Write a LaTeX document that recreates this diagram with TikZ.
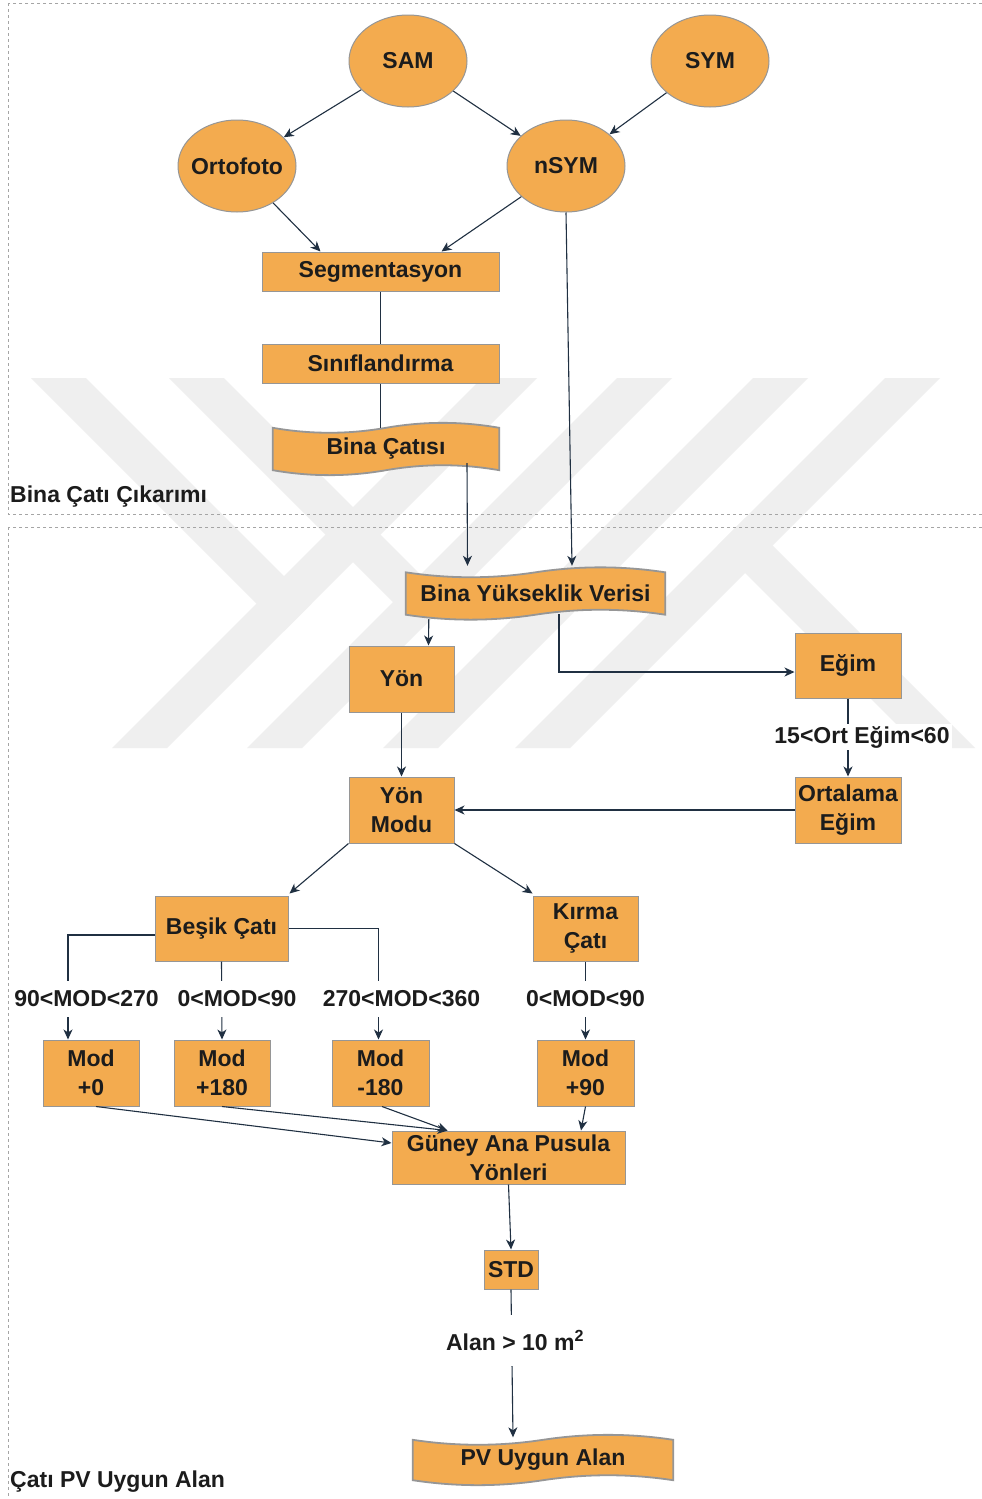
\documentclass[tikz,border=0pt]{standalone}
\usepackage{fontspec}
\setmainfont{Liberation Sans}
\usetikzlibrary{shapes.geometric,arrows.meta,calc}
\definecolor{orng}{RGB}{243,171,79}
\definecolor{bordr}{RGB}{150,150,150}
\definecolor{arr}{RGB}{32,48,66}
\definecolor{wmk}{RGB}{239,239,239}
\definecolor{lane}{RGB}{165,165,165}
\definecolor{txt}{RGB}{28,28,28}
\pgfdeclarelayer{wmark}
\pgfdeclarelayer{shapes}
\pgfsetlayers{wmark,shapes,main}
\tikzset{
  base/.style={font=\fontsize{23}{29}\selectfont\bfseries, text=txt, align=center, inner sep=0pt},
  ellbox/.style={base, ellipse, draw=bordr, fill=orng, line width=1pt, minimum width=118pt, minimum height=92pt},
  rbox/.style={base, draw=bordr, fill=orng, line width=1pt},
  tapebox/.style={base},
  conn/.style={draw=arr, line width=1.1pt, -{Stealth[length=10pt,width=9pt,inset=3pt]}},
  plainline/.style={draw=arr, line width=1.1pt},
  lbl/.style={base, fill=white, inner xsep=2pt},
  lanebox/.style={draw=lane, dash pattern=on 3pt off 3pt, line width=0.9pt},
  lanelbl/.style={base, anchor=west},
  wmband/.style={fill=wmk, draw=none},
}
\newcommand\tapeshape[2]{%
  \begin{pgfonlayer}{shapes}
  \path[draw=bordr, fill=orng, line width=1.8pt] let \p1=(#1.north west), \p2=(#1.south east), \n1={\x2-\x1} in
   (\x1,{\y1-#2/2}) .. controls ({\x1+\n1/6},{\y1-1.1*#2}) and ({\x1+\n1/3},{\y1-1.1*#2}) .. ({\x1+\n1/2},{\y1-#2/2})
   .. controls ({\x1+2*\n1/3},{\y1+0.1*#2}) and ({\x1+5*\n1/6},{\y1+0.1*#2}) .. (\x2,{\y1-#2/2})
   -- (\x2,{\y2+#2/2})
   .. controls ({\x2-\n1/6},{\y2+1.1*#2}) and ({\x1+2*\n1/3},{\y2+1.1*#2}) .. ({\x1+\n1/2},{\y2+#2/2})
   .. controls ({\x1+\n1/3},{\y2-0.1*#2}) and ({\x1+\n1/6},{\y2-0.1*#2}) .. (\x1,{\y2+#2/2}) -- cycle;
  \end{pgfonlayer}}
\newcommand\ctext[1]{\makebox[0pt][c]{#1}}
\begin{document}
\begin{tikzpicture}[x=1pt,y=-1pt]
\useasboundingbox (0,0) rectangle (982,1499);

% background and watermark
\begin{pgfonlayer}{wmark}
\fill[white] (0,0) rectangle (982,1499);
\fill[wmband] (112,748) -- (167,748) -- (537,378) -- (482,378) -- cycle;
\fill[wmband] (247,748) -- (302,748) -- (672,378) -- (617,378) -- cycle;
\fill[wmband] (383,748) -- (438,748) -- (808,378) -- (753,378) -- cycle;
\fill[wmband] (515,748) -- (570,748) -- (940,378) -- (885,378) -- cycle;
\fill[wmband] (31,378) -- (86,378) -- (311.5,603.5) -- (284,631) -- cycle;
\fill[wmband] (169,378) -- (224,378) -- (448,602) -- (420.5,629.5) -- cycle;
\fill[wmband] (717.5,545.5) -- (745,518) -- (975,748) -- (920,748) -- cycle;
\end{pgfonlayer}

% lanes
\draw[lanebox] (8,3) rectangle (995,514);
\draw[lanebox] (8,527) rectangle (995,1515);
\node[lanelbl] (lane1) at (10,497) {Bina Çatı Çıkarımı};
\node[lanelbl] (lane2) at (10,1482) {Çatı PV Uygun Alan};

% nodes
\node[ellbox] (sam) at (408,61) {\ctext{SAM}};
\node[ellbox] (sym) at (710,61) {\ctext{SYM}};
\node[ellbox] (orto) at (237,166) {\ctext{Ortofoto}};
\node[ellbox] (nsym) at (566,166) {\ctext{nSYM}};
\node[rbox, minimum width=237pt, minimum height=39pt] (seg) at (380.5,271.5) {Segmentasyon};
\node[rbox, minimum width=237pt, minimum height=39pt] (sin) at (380.5,363.5) {Sınıflandırma};
\node[tapebox, minimum width=226pt, minimum height=53pt] (bc) at (386,449) {Bina Çatısı};
\tapeshape{bc}{11pt}
\node[tapebox, minimum width=259pt, minimum height=53pt] (byv) at (535.5,593.5) {Bina Yükseklik Verisi};
\tapeshape{byv}{11pt}
\node[rbox, minimum width=105pt, minimum height=66pt] (yon) at (401.5,679) {Yön};
\node[rbox, minimum width=106pt, minimum height=65pt] (egim) at (848,665.5) {Eğim};
\node[rbox, minimum width=106pt, minimum height=66pt] (ort) at (848,810) {Ortalama\\Eğim};
\node[rbox, minimum width=105pt, minimum height=66pt] (ymod) at (401.5,810) {Yön\\Modu};
\node[rbox, minimum width=133pt, minimum height=65pt] (besik) at (221.5,928.5) {Beşik Çatı};
\node[rbox, minimum width=105pt, minimum height=65pt] (kirma) at (585.5,928.5) {Kırma\\Çatı};
\node[rbox, minimum width=96pt, minimum height=66pt] (mod0) at (91,1073) {Mod\\+0};
\node[rbox, minimum width=96pt, minimum height=66pt] (mod180) at (222,1073) {Mod\\+180};
\node[rbox, minimum width=97pt, minimum height=66pt] (modm) at (380.5,1073) {Mod\\-180};
\node[rbox, minimum width=97pt, minimum height=66pt] (mod90) at (585.5,1073) {Mod\\+90};
\node[rbox, minimum width=233pt, minimum height=53pt] (guney) at (508.5,1157.5) {Güney Ana Pusula\\Yönleri};
\node[rbox, minimum width=54pt, minimum height=39pt] (std) at (511,1269.5) {STD};
\node[tapebox, minimum width=260pt, minimum height=51pt] (pv) at (543,1460) {PV Uygun Alan};
\tapeshape{pv}{11pt}

% connectors (top lane)
\draw[conn] (sam) -- (orto);
\draw[conn] (sam) -- (nsym);
\draw[conn] (sym) -- (nsym);
\draw[conn] (orto) -- ($(seg.north)+(-60,0)$);
\draw[conn] (nsym) -- ($(seg.north)+(61,0)$);
\draw[plainline] (seg.south) -- (sin.north);
\draw[plainline] (sin.south) -- ($(sin.south |- bc.north)+(0,6)$);
\draw[conn] ($(bc.center)+(81,14)$) -- ($(byv.north)+(-68,-1)$);
\draw[conn] (nsym.south) -- ($(byv.north)+(36.5,-1)$);

% second lane
\draw[conn] ($(byv.south west)+(23,-1)$) -- ($(yon.north)+(27,0)$);
\draw[conn] ($(byv.south)+(23.5,-6)$) |- ($(egim.west)+(0,6.5)$);
\draw[conn] (yon) -- (ymod);
\draw[conn] (egim) -- (ort);
\node[lbl, minimum height=26pt] (ortlbl) at (862,737) {15<Ort Eğim<60};
\draw[conn] (ort) -- (ymod);
\draw[conn] (ymod.south west) -- ($(besik.north east)+(1,-2)$);
\draw[conn] (ymod.south east) -- ($(kirma.north west)+(0,-2)$);
\draw[conn] ($(besik.west)+(0,6.5)$) -| ($(mod0.north)+(-23,0)$);
\draw[conn] (besik.south) -- (mod180.north);
\draw[conn] (besik.east) -| ($(modm.north)+(-2,0)$);
\draw[conn] (kirma.south) -- (mod90.north);
\node[lbl, minimum height=36pt] (l1) at (86.5,999) {90<MOD<270};
\node[lbl, minimum height=36pt] (l2) at (237,999) {0<MOD<90};
\node[lbl, minimum height=36pt] (l3) at (401.5,999) {270<MOD<360};
\node[lbl, minimum height=36pt] (l4) at (585.5,999) {0<MOD<90};
\draw[conn] ($(mod0.south)+(5,0)$) -- ($(guney.west)+(0,-14.5)$);
\draw[conn] (mod180.south) -- ($(guney.north west)+(56,0)$);
\draw[conn] ($(modm.south)+(1.5,0)$) -- ($(guney.north west)+(56,0)$);
\draw[conn] (mod90.south) -- ($(guney.north)+(72.5,0)$);
\draw[conn] (guney.south) -- (std.north);
\draw[conn] (std.south) -- ($(pv.north)+(-30,3)$);
\node[lbl, minimum height=51pt] (alan) at (515,1340) {Alan > 10 m\textsuperscript{2}};
\end{tikzpicture}
\end{document}
